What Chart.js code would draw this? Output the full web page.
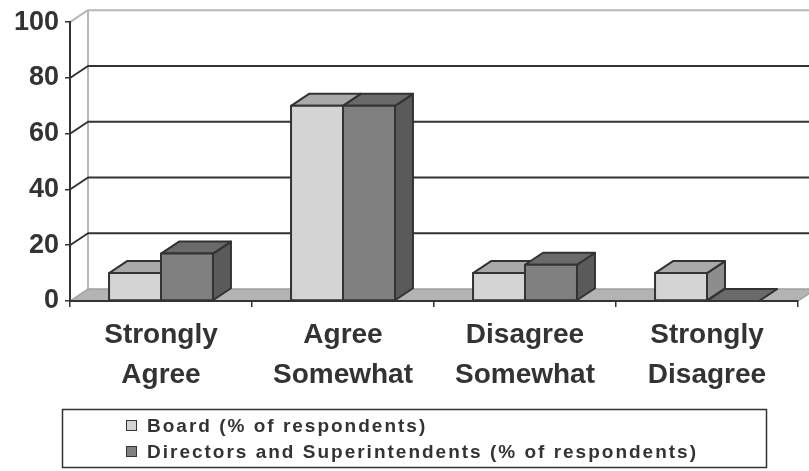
<!DOCTYPE html>
<html>
<head>
<meta charset="utf-8">
<script src="https://cdn.jsdelivr.net/npm/chart.js@4/dist/chart.umd.min.js"></script>
<style>
  html, body { margin: 0; padding: 0; background: #ffffff; }
  #wrap { width: 809px; height: 471px; }
</style>
</head>
<body>
<div id="wrap"><canvas id="c" width="809" height="471"></canvas></div>
<script>
// Survey answers, one entry per response option
const categories = [
  ['Strongly', 'Agree'],
  ['Agree', 'Somewhat'],
  ['Disagree', 'Somewhat'],
  ['Strongly', 'Disagree']
];
const boardValues = [10, 70, 10, 10];
const directorValues = [17, 70, 13, 0];
const seriesNames = [
  'Board (% of respondents)',
  'Directors and Superintendents (% of respondents)'
];
const yTicks = [0, 20, 40, 60, 80, 100];

// Oblique depth of the boxes and of the back wall
const DX = 18, DY = -12;
const INK = '#333333';
const FACES = [
  { front: '#d4d4d4', top: '#a9a9a9', side: '#8d8d8d' },
  { front: '#808080', top: '#6a6a6a', side: '#5a5a5a' }
];
const FONT = "'Liberation Sans', Arial, sans-serif";

function poly(ctx, pts, fill, stroke, lw) {
  ctx.beginPath();
  ctx.moveTo(pts[0][0], pts[0][1]);
  for (let i = 1; i < pts.length; i++) ctx.lineTo(pts[i][0], pts[i][1]);
  ctx.closePath();
  if (fill) { ctx.fillStyle = fill; ctx.fill(); }
  if (stroke) { ctx.strokeStyle = stroke; ctx.lineWidth = lw || 2; ctx.stroke(); }
}

const box3d = {
  id: 'box3d',
  // back wall grid and floor, painted under the axes
  beforeDraw(chart) {
    const { ctx, chartArea: a, scales: { y } } = chart;
    const base = y.getPixelForValue(0);
    const topY = y.getPixelForValue(100);
    ctx.save();
    ctx.lineJoin = 'round';
    ctx.strokeStyle = '#b8b8b8';
    ctx.lineWidth = 2;
    ctx.beginPath();
    ctx.moveTo(a.left + DX, topY + DY);
    ctx.lineTo(a.left + DX, base + DY);
    ctx.stroke();
    yTicks.forEach(v => {
      if (v === 0) return;
      const py = y.getPixelForValue(v);
      ctx.strokeStyle = v === 100 ? '#b8b8b8' : INK;
      ctx.lineWidth = 2;
      ctx.beginPath();
      ctx.moveTo(a.left, py);
      ctx.lineTo(a.left + DX, py + DY);
      ctx.lineTo(a.right + DX, py + DY);
      ctx.stroke();
    });
    poly(ctx, [[a.left, base], [a.left + DX, base + DY], [a.right + DX, base + DY], [a.right, base]], '#b3b3b3');
    ctx.strokeStyle = '#a0a0a0';
    ctx.lineWidth = 1.5;
    ctx.beginPath();
    ctx.moveTo(a.left, base);
    ctx.lineTo(a.left + DX, base + DY);
    ctx.lineTo(a.right + DX, base + DY);
    ctx.lineTo(a.right, base);
    ctx.stroke();
    ctx.restore();
  },
  // top and side faces of every box, category by category
  beforeDatasetsDraw(chart) {
    const ctx = chart.ctx;
    const metas = chart.data.datasets.map((_, d) => chart.getDatasetMeta(d));
    ctx.save();
    ctx.lineJoin = 'round';
    for (let i = 0; i < chart.data.labels.length; i++) {
      metas.forEach((meta, d) => {
        const el = meta.data[i];
        const { x, y, base, width } = el.getProps(['x', 'y', 'base', 'width'], true);
        const L = x - width / 2, R = x + width / 2;
        poly(ctx, [[R, y], [R + DX, y + DY], [R + DX, base + DY], [R, base]], FACES[d].side, INK, 2);
        poly(ctx, [[L, y], [L + DX, y + DY], [R + DX, y + DY], [R, y]], FACES[d].top, INK, 2);
      });
    }
    ctx.restore();
  },
  // outline of the front faces
  afterDatasetsDraw(chart) {
    const ctx = chart.ctx;
    ctx.save();
    ctx.strokeStyle = INK;
    ctx.lineWidth = 2;
    ctx.lineJoin = 'round';
    chart.data.datasets.forEach((_, d) => {
      chart.getDatasetMeta(d).data.forEach(el => {
        const { x, y, base, width } = el.getProps(['x', 'y', 'base', 'width'], true);
        ctx.strokeRect(x - width / 2, y, width, base - y);
      });
    });
    ctx.restore();
  },
  // boxed legend under the category labels
  afterDraw(chart) {
    const ctx = chart.ctx;
    ctx.save();
    ctx.strokeStyle = INK;
    ctx.lineWidth = 1.5;
    ctx.strokeRect(62.5, 409.5, 704, 58);
    ctx.font = 'bold 19px ' + FONT;
    ctx.letterSpacing = '2px';
    ctx.textBaseline = 'alphabetic';
    const rows = [432, 458];
    chart.data.datasets.forEach((ds, d) => {
      const by = rows[d];
      ctx.fillStyle = FACES[d].front;
      ctx.fillRect(126, by - 12, 11, 11);
      ctx.lineWidth = 1;
      ctx.strokeStyle = INK;
      ctx.strokeRect(126.5, by - 11.5, 10, 10);
      ctx.fillStyle = INK;
      ctx.fillText(ds.label, 147, by);
    });
    ctx.restore();
  }
};

Chart.defaults.font.family = FONT;

new Chart(document.getElementById('c'), {
  type: 'bar',
  data: {
    labels: categories,
    datasets: [
      { label: seriesNames[0], data: boardValues, backgroundColor: FACES[0].front, borderWidth: 0 },
      { label: seriesNames[1], data: directorValues, backgroundColor: FACES[1].front, borderWidth: 0 }
    ]
  },
  options: {
    responsive: false,
    devicePixelRatio: 1,
    animation: false,
    categoryPercentage: 0.571,
    barPercentage: 1.0,
    layout: { padding: { top: 17, right: 11, left: 0, bottom: 0 } },
    plugins: { legend: { display: false }, tooltip: { enabled: false } },
    scales: {
      x: {
        offset: true,
        grid: { display: true, drawOnChartArea: false, drawTicks: true, tickLength: 6, color: INK, lineWidth: 1.5, offset: true },
        border: { display: true, color: INK, width: 2 },
        ticks: {
          color: INK,
          font: { size: 28, weight: 'bold', lineHeight: 1.43 },
          padding: 8,
          maxRotation: 0,
          autoSkip: false
        },
        afterFit(s) { s.height = 170; }
      },
      y: {
        min: 0,
        max: 100,
        afterBuildTicks(s) { s.ticks = yTicks.map(v => ({ value: v })); },
        grid: { display: true, drawOnChartArea: false, drawTicks: true, tickLength: 5, color: INK, lineWidth: 1.5 },
        border: { display: true, color: INK, width: 2 },
        ticks: { color: INK, font: { size: 27, weight: 'bold' }, padding: 6 },
        afterFit(s) { s.width = 70; }
      }
    }
  },
  plugins: [box3d]
});
</script>
</body>
</html>
